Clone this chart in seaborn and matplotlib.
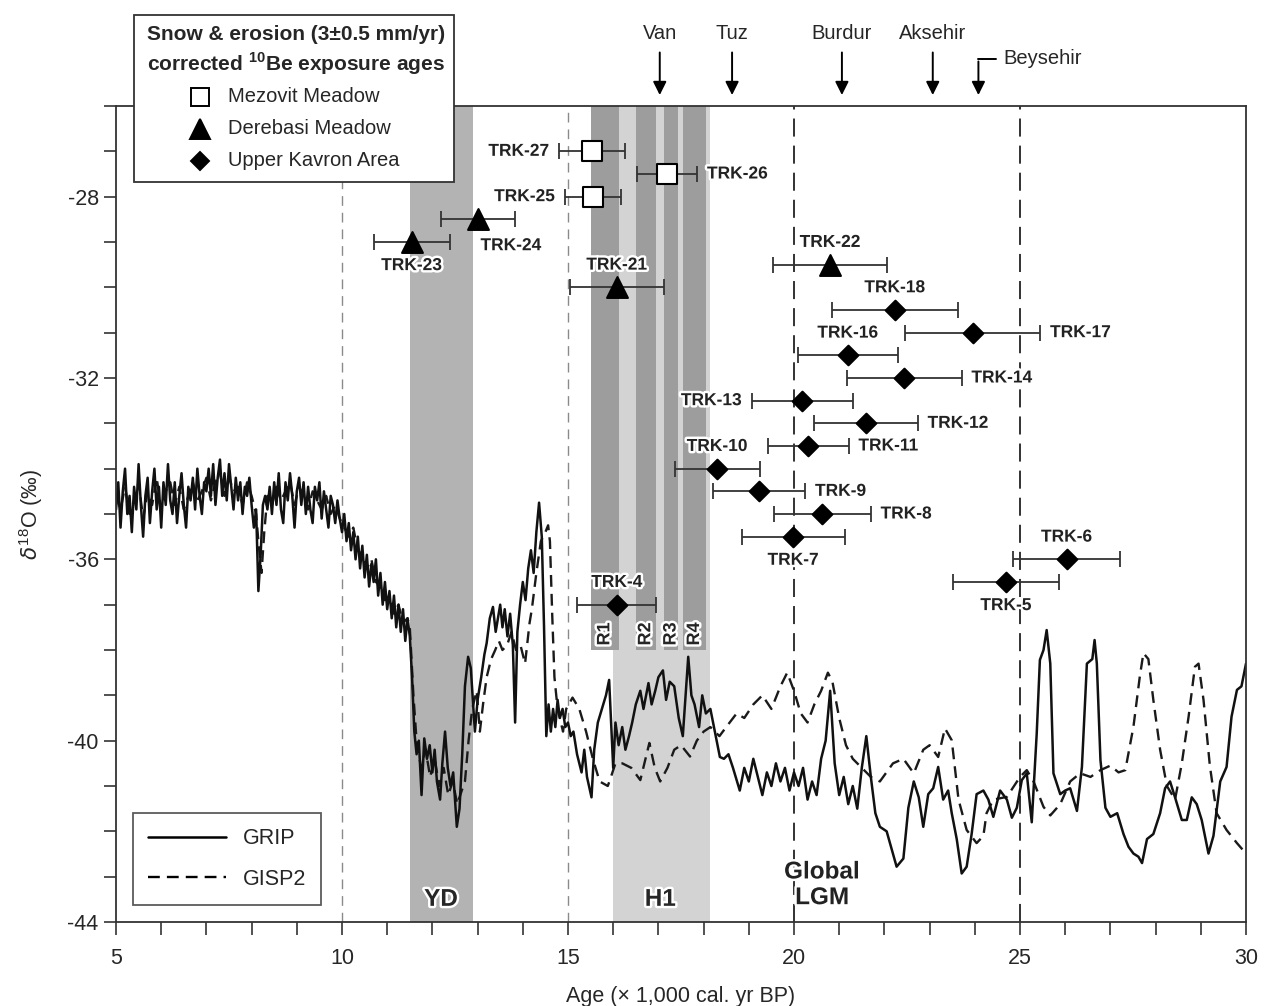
import pandas as pd
import seaborn as sns
import matplotlib.pyplot as plt
import matplotlib.patheffects as pe
from matplotlib.patches import Rectangle
from matplotlib.lines import Line2D

# ---- ice core records (age in kyr BP, d18O permil) ----
grip_age = [5.00, 5.05, 5.10, 5.15, 5.20, 5.25, 5.30, 5.35, 5.40, 5.45, 5.50, 5.55, 5.60, 5.65, 5.70,
            5.75, 5.80, 5.85, 5.90, 5.95, 6.00, 6.05, 6.10, 6.15, 6.20, 6.25, 6.30, 6.35, 6.40, 6.45,
            6.50, 6.55, 6.60, 6.65, 6.70, 6.75, 6.80, 6.85, 6.90, 6.95, 7.00, 7.05, 7.10, 7.15, 7.20,
            7.25, 7.30, 7.35, 7.40, 7.45, 7.50, 7.55, 7.60, 7.65, 7.70, 7.75, 7.80, 7.85, 7.90, 7.95,
            8.00, 8.05, 8.10, 8.15, 8.20, 8.25, 8.30, 8.35, 8.40, 8.45, 8.50, 8.55, 8.60, 8.65, 8.70,
            8.75, 8.80, 8.85, 8.90, 8.95, 9.00, 9.05, 9.10, 9.15, 9.20, 9.25, 9.30, 9.35, 9.40, 9.45,
            9.50, 9.55, 9.60, 9.65, 9.70, 9.75, 9.80, 9.85, 9.90, 9.95, 10.00, 10.05, 10.10, 10.15,
            10.20, 10.25, 10.30, 10.35, 10.40, 10.45, 10.50, 10.55, 10.60, 10.65, 10.70, 10.75, 10.80,
            10.85, 10.90, 10.95, 11.00, 11.05, 11.10, 11.15, 11.20, 11.25, 11.30, 11.35, 11.40, 11.45,
            11.50, 11.55, 11.60, 11.65, 11.70, 11.76, 11.82, 11.88, 11.94, 12.00, 12.05, 12.10, 12.17,
            12.22, 12.28, 12.34, 12.40, 12.46, 12.54, 12.60, 12.66, 12.72, 12.79, 12.85, 12.94, 13.00,
            13.08, 13.15, 13.20, 13.27, 13.34, 13.40, 13.45, 13.50, 13.55, 13.60, 13.66, 13.72, 13.78,
            13.83, 13.88, 13.94, 14.00, 14.06, 14.12, 14.18, 14.24, 14.30, 14.36, 14.42, 14.47, 14.52,
            14.57, 14.62, 14.67, 14.72, 14.77, 14.82, 14.88, 14.94, 15.00, 15.06, 15.12, 15.20, 15.30,
            15.36, 15.42, 15.52, 15.58, 15.66, 15.75, 15.84, 15.91, 16.00, 16.05, 16.12, 16.20, 16.27,
            16.35, 16.42, 16.50, 16.60, 16.67, 16.78, 16.85, 16.93, 17.00, 17.10, 17.17, 17.25, 17.35,
            17.45, 17.54, 17.66, 17.73, 17.80, 17.90, 17.97, 18.05, 18.15, 18.25, 18.36, 18.45, 18.55,
            18.65, 18.80, 18.90, 19.00, 19.10, 19.20, 19.30, 19.40, 19.50, 19.60, 19.70, 19.80, 19.90,
            20.00, 20.10, 20.20, 20.30, 20.40, 20.50, 20.60, 20.70, 20.80, 20.90, 21.00, 21.10, 21.20,
            21.30, 21.40, 21.50, 21.60, 21.70, 21.80, 21.90, 22.05, 22.27, 22.42, 22.53, 22.65, 22.76,
            22.86, 22.97, 23.08, 23.19, 23.30, 23.41, 23.49, 23.60, 23.71, 23.82, 23.93, 24.04, 24.19,
            24.30, 24.41, 24.56, 24.71, 24.82, 24.93, 25.04, 25.15, 25.26, 25.37, 25.44, 25.52, 25.59,
            25.67, 25.74, 25.89, 26.00, 26.11, 26.26, 26.37, 26.48, 26.60, 26.65, 26.70, 26.78, 26.89,
            27.00, 27.15, 27.29, 27.40, 27.51, 27.62, 27.70, 27.81, 27.95, 28.10, 28.21, 28.32, 28.43,
            28.58, 28.69, 28.80, 28.91, 29.02, 29.17, 29.28, 29.43, 29.57, 29.68, 29.80, 29.90, 30.00]
grip_d18o = [-34.9, -34.3, -35.3, -34.5, -34.0, -35.0, -34.6, -35.4, -34.4, -34.9, -33.9, -34.8, -35.5, -34.6, -34.2,
             -35.2, -34.5, -34.0, -34.9, -34.4, -35.3, -34.3, -34.8, -33.9, -34.7, -35.0, -34.3, -35.2, -34.6, -34.1,
             -34.8, -35.3, -34.4, -34.7, -34.2, -34.9, -34.0, -34.6, -35.0, -34.3, -34.5, -34.0, -34.6, -33.9, -34.8,
             -34.2, -33.8, -34.6, -34.1, -34.7, -33.9, -34.4, -34.9, -34.2, -34.7, -34.3, -35.0, -34.4, -34.6, -34.2,
             -34.8, -35.3, -34.9, -36.7, -35.9, -34.8, -34.6, -34.9, -34.4, -35.0, -34.3, -34.8, -34.1, -34.9, -35.2,
             -34.3, -34.7, -34.1, -34.6, -35.3, -34.5, -34.2, -34.8, -34.3, -35.0, -34.4, -34.9, -35.2, -34.4, -34.7,
             -34.3, -35.1, -34.5, -34.9, -35.3, -34.6, -34.8, -35.2, -34.7, -35.1, -35.4, -35.0, -35.6, -35.2,
             -35.8, -35.4, -36.0, -35.5, -36.2, -35.7, -36.4, -35.9, -36.6, -36.1, -36.5, -36.0, -36.8,
             -36.3, -37.0, -36.5, -37.1, -36.7, -37.3, -36.8, -37.5, -37.0, -37.6, -37.1, -37.8, -37.3,
             -37.7, -38.6, -39.8, -40.3, -40.0, -41.2, -39.95, -40.4, -40.1, -40.7, -40.2, -40.9, -41.3,
             -40.5, -39.8, -40.6, -41.0, -40.7, -41.9, -41.5, -40.3, -38.8, -38.15, -38.4, -39.8, -39.1,
             -38.6, -38.1, -37.85, -37.3, -37.05, -37.6, -37.3, -37.0, -37.5, -37.1, -37.7, -37.2, -37.9,
             -39.6, -37.6, -37.0, -36.5, -36.9, -36.2, -35.8, -36.3, -35.4, -34.75, -35.5, -37.5, -39.9,
             -39.2, -39.8, -39.3, -39.7, -39.1, -39.5, -39.3, -39.7, -39.6, -39.9, -39.8, -40.3, -40.7,
             -40.2, -40.8, -41.25, -40.2, -39.6, -39.3, -39.0, -38.66, -40.6, -39.6, -40.1, -39.7, -40.2,
             -39.9, -39.6, -39.2, -38.9, -39.3, -38.73, -39.2, -38.9, -38.6, -38.45, -39.1, -38.7, -38.8,
             -39.5, -39.9, -38.15, -39.0, -39.2, -39.7, -39.0, -39.4, -39.3, -39.8, -40.36, -40.4, -40.3,
             -40.6, -41.1, -40.6, -40.9, -40.4, -40.8, -41.2, -40.7, -41.0, -40.5, -40.9, -40.6, -41.1,
             -40.7, -41.0, -40.6, -41.3, -40.9, -41.2, -40.4, -40.0, -38.9, -40.5, -41.2, -40.8, -41.4,
             -41.0, -41.5, -40.6, -39.9, -40.8, -41.6, -41.9, -42.0, -42.78, -42.6, -41.48, -40.9, -41.25,
             -41.9, -41.18, -41.05, -40.58, -41.3, -41.1, -41.6, -42.17, -42.93, -42.78, -42.06, -41.18, -41.1,
             -41.3, -41.68, -41.1, -41.3, -41.7, -41.48, -40.87, -40.72, -41.8, -39.84, -38.22, -38.0, -37.56,
             -38.3, -40.72, -41.18, -41.1, -41.05, -41.55, -40.58, -38.3, -38.2, -37.78, -38.3, -40.43, -41.48,
             -41.68, -41.6, -42.06, -42.34, -42.49, -42.56, -42.7, -42.17, -42.06, -41.6, -41.05, -40.9, -41.25,
             -41.75, -41.75, -41.25, -41.4, -41.75, -42.49, -42.1, -40.9, -40.58, -39.47, -38.88, -38.8, -38.3]

gisp2_age = [5.0, 5.1, 5.2, 5.3, 5.4, 5.5, 5.6, 5.7, 5.8, 5.9, 6.0, 6.1, 6.2, 6.3, 6.4, 6.5, 6.6, 6.7,
             6.8, 6.9, 7.0, 7.1, 7.2, 7.3, 7.4, 7.5, 7.6, 7.7, 7.8, 7.9, 8.0, 8.1, 8.15, 8.22, 8.28,
             8.35, 8.45, 8.55, 8.65, 8.75, 8.85, 8.95, 9.05, 9.15, 9.25, 9.35, 9.45, 9.55, 9.65, 9.75,
             9.85, 9.95, 10.05, 10.15, 10.25, 10.35, 10.45, 10.55, 10.65, 10.75, 10.85, 10.95, 11.05,
             11.15, 11.25, 11.35, 11.45, 11.50, 11.58, 11.65, 11.75, 11.85, 11.95, 12.05, 12.15, 12.25,
             12.35, 12.45, 12.55, 12.65, 12.72, 12.80, 12.88, 12.98, 13.05, 13.12, 13.20, 13.30, 13.39,
             13.47, 13.55, 13.65, 13.75, 13.85, 13.95, 14.05, 14.15, 14.20, 14.30, 14.40, 14.50, 14.56,
             14.60, 14.65, 14.70, 14.77, 14.89, 14.96, 15.10, 15.25, 15.40, 15.55, 15.70, 15.88, 15.95,
             16.05, 16.20, 16.40, 16.60, 16.80, 16.92, 17.04, 17.20, 17.35, 17.50, 17.70, 17.85, 18.00,
             18.15, 18.35, 18.50, 18.73, 18.90, 19.10, 19.30, 19.50, 19.70, 19.85, 20.00, 20.15, 20.30,
             20.45, 20.60, 20.75, 20.85, 21.00, 21.15, 21.30, 21.50, 21.70, 21.90, 22.19, 22.42, 22.65,
             22.86, 23.00, 23.19, 23.34, 23.49, 23.64, 23.82, 24.04, 24.19, 24.26, 24.41, 24.71, 25.00,
             25.15, 25.30, 25.52, 25.67, 25.89, 26.11, 26.33, 26.56, 26.78, 27.00, 27.18, 27.33, 27.51,
             27.65, 27.73, 27.84, 27.95, 28.10, 28.25, 28.43, 28.58, 28.73, 28.87, 28.95, 29.06, 29.20,
             29.35, 29.57, 29.80, 30.00]
gisp2_d18o = [-34.6, -34.9, -34.4, -35.0, -34.7, -34.3, -35.1, -34.5, -34.8, -34.2, -34.9, -34.5, -34.3, -34.8,
              -34.4, -34.9, -34.6, -34.3, -34.7, -34.5, -34.2, -34.7, -34.3, -34.1, -34.6, -34.2, -34.5, -34.4,
              -34.8, -34.3, -34.6, -35.0, -35.6, -36.3, -35.4, -34.6, -34.8, -34.4, -34.7, -34.5, -34.3, -34.8,
              -34.4, -34.6, -34.9, -34.5, -34.7, -34.9, -34.6, -35.0, -34.8, -35.1, -35.3, -35.5, -35.3, -35.8,
              -35.9, -36.2, -36.0, -36.5, -36.6, -36.9, -36.8, -37.2, -37.0, -37.4, -37.3, -37.5, -39.0, -40.0,
              -40.6, -40.2, -40.8, -40.4, -41.0, -40.6, -41.2, -40.9, -41.4, -41.1, -40.9, -40.0, -39.3, -38.9,
              -39.8, -39.2, -38.6, -38.2, -38.0, -37.8, -38.0, -37.9, -37.6, -38.0, -37.9, -38.3, -37.4, -37.1,
              -36.3, -35.6, -35.4, -35.25, -35.6, -37.2, -38.6, -39.3, -39.8, -39.3, -39.05, -39.3, -39.8, -40.4,
              -40.9, -41.0, -40.8, -40.5, -40.5, -40.6, -40.87, -40.05, -40.6, -40.9, -40.6, -40.2, -40.1, -40.35,
              -40.0, -39.8, -39.7, -39.9, -39.7, -39.4, -39.5, -39.2, -39.0, -39.3, -38.8, -38.5, -38.9, -39.4,
              -39.6, -39.2, -38.9, -38.5, -38.7, -39.5, -40.1, -40.4, -40.6, -40.8, -40.9, -40.5, -40.4, -40.72,
              -40.2, -40.1, -40.36, -39.73, -39.99, -41.3, -41.97, -42.26, -42.1, -41.6, -41.3, -41.24, -40.8,
              -40.65, -40.9, -41.46, -41.65, -41.4, -40.9, -40.72, -40.8, -40.65, -40.55, -40.7, -40.65, -39.69,
              -38.59, -38.07, -38.2, -39.1, -40.2, -41.0, -41.3, -40.5, -39.47, -38.37, -38.3, -39.1, -40.55,
              -41.6, -41.97, -42.26, -42.49]

# ---- 10Be exposure ages (kyr) with 1-sigma errors; y is the plotting row ----
mezovit_id = ["TRK-27", "TRK-26", "TRK-25"]
mezovit_age = [15.53, 17.19, 15.55]
mezovit_err = [0.73, 0.67, 0.62]
mezovit_y = [-27.0, -27.5, -28.0]

derebasi_id = ["TRK-24", "TRK-23", "TRK-21", "TRK-22"]
derebasi_age = [13.00, 11.54, 16.08, 20.80]
derebasi_err = [0.82, 0.84, 1.04, 1.26]
derebasi_y = [-28.5, -29.0, -30.0, -29.5]

kavron_id = ["TRK-18", "TRK-17", "TRK-16", "TRK-14", "TRK-13", "TRK-12", "TRK-11", "TRK-10",
             "TRK-9", "TRK-8", "TRK-7", "TRK-6", "TRK-5", "TRK-4"]
kavron_age = [22.23, 23.95, 21.19, 22.44, 20.18, 21.59, 20.32, 18.30, 19.23, 20.63, 19.98, 26.03, 24.69, 16.08]
kavron_err = [1.40, 1.50, 1.10, 1.27, 1.12, 1.15, 0.89, 0.94, 1.02, 1.07, 1.14, 1.18, 1.17, 0.87]
kavron_y = [-30.5, -31.0, -31.5, -32.0, -32.5, -33.0, -33.5, -34.0, -34.5, -35.0, -35.5, -36.0, -36.5, -37.0]

# where each sample label sits relative to its point
label_side = {"TRK-27": "left", "TRK-26": "right", "TRK-25": "left", "TRK-24": "belowright",
              "TRK-23": "below", "TRK-21": "above", "TRK-22": "above", "TRK-18": "above",
              "TRK-17": "right", "TRK-16": "above", "TRK-14": "right", "TRK-13": "left",
              "TRK-12": "right", "TRK-11": "right", "TRK-10": "above", "TRK-9": "right",
              "TRK-8": "right", "TRK-7": "below", "TRK-6": "above", "TRK-5": "below", "TRK-4": "above"}

# climate intervals (kyr)
yd_span = (11.5, 12.9)
h1_span = (16.0, 18.15)
r_names = ["R1", "R2", "R3", "R4"]
r_start = [15.5, 16.5, 17.12, 17.55]
r_end = [16.13, 16.94, 17.44, 18.05]
r_floor = -38.0

# lake records shown above the plot
lake_names = ["Van", "Tuz", "Burdur", "Aksehir"]
lake_age = [17.03, 18.63, 21.06, 23.07]
beysehir_age = 24.08

sns.set_style("ticks")
plt.rcParams["font.family"] = ["Liberation Sans", "DejaVu Sans"]
plt.rcParams["axes.unicode_minus"] = False
plt.rcParams["mathtext.fontset"] = "custom"
plt.rcParams["mathtext.rm"] = "Liberation Sans"
plt.rcParams["mathtext.bf"] = "Liberation Sans:bold"
NARROW = ["Liberation Sans Narrow", "Liberation Sans", "DejaVu Sans"]
halo = [pe.withStroke(linewidth=3.5, foreground="white")]

W, H = 1270, 1006
fig = plt.figure(figsize=(W / 100, H / 100), dpi=100)
ax = fig.add_axes([116 / W, 1 - 922 / H, 1130 / W, 816 / H])
ax.set_xlim(5, 30)
ax.set_ylim(-44, -26)

# shaded intervals
ax.axvspan(*yd_span, color="#b3b3b3", lw=0, zorder=0)
ax.axvspan(*h1_span, color="#d3d3d3", lw=0, zorder=0)
fl = (r_floor + 44) / 18
for a, b in zip(r_start, r_end):
    ax.axvspan(a, b, ymin=fl, ymax=1, color="#9d9d9d", lw=0, zorder=0.5)

ax.axvline(10, color="#8a8a8a", lw=1.0, dashes=(7, 5), zorder=1)
ax.axvline(15, color="#8a8a8a", lw=1.0, dashes=(7, 5), zorder=1)
ax.axvline(20, color="#222222", lw=1.3, dashes=(10, 5), zorder=1)
ax.axvline(25, color="#222222", lw=1.3, dashes=(10, 5), zorder=1)

grip = pd.DataFrame({"age": grip_age, "d18o": grip_d18o})
gisp2 = pd.DataFrame({"age": gisp2_age, "d18o": gisp2_d18o})
sns.lineplot(data=gisp2, x="age", y="d18o", ax=ax, color="#1a1a1a", lw=1.7,
             dashes=False, linestyle=(0, (5, 3)), label="GISP2", zorder=2)
sns.lineplot(data=grip, x="age", y="d18o", ax=ax, color="#111111", lw=1.8,
             label="GRIP", zorder=2.1)

# exposure ages
groups = [
    (mezovit_id, mezovit_age, mezovit_err, mezovit_y, "s", 14, "white"),
    (derebasi_id, derebasi_age, derebasi_err, derebasi_y, "^", 15, "black"),
    (kavron_id, kavron_age, kavron_err, kavron_y, "D", 10, "black"),
]
for ids, ages, errs, ys, mk, ms, fc in groups:
    ax.errorbar(ages, ys, xerr=errs, fmt="none", ecolor="#333333", elinewidth=1.3,
                capsize=6, capthick=1.3, zorder=3)
    sns.scatterplot(x=ages, y=ys, ax=ax, marker=mk, s=ms ** 2, color=fc,
                    edgecolor="black", linewidth=1.5, zorder=4, legend=False)
    for name, a, e, y in zip(ids, ages, errs, ys):
        side = label_side[name]
        kw = dict(fontsize=12.5, fontweight="bold", family=NARROW, color="#222222",
                  textcoords="offset points", path_effects=halo, zorder=5, va="center")
        if side == "left":
            ax.annotate(name, (a - e, y), xytext=(-7, 0), ha="right", **kw)
        elif side == "right":
            ax.annotate(name, (a + e, y), xytext=(7, 0), ha="left", **kw)
        elif side == "above":
            ax.annotate(name, (a, y), xytext=(0, 16), ha="center", **kw)
        elif side == "below":
            ax.annotate(name, (a, y), xytext=(0, -17), ha="center", **kw)
        else:
            ax.annotate(name, (a, y), xytext=(24, -19), ha="center", **kw)

# interval labels
for name, a, b in zip(r_names, r_start, r_end):
    ax.text((a + b) / 2, r_floor + 0.1, name, rotation=90, ha="center", va="bottom",
            fontsize=13, fontweight="bold", family=NARROW, path_effects=halo, zorder=5)
ax.text(12.19, -43.5, "YD", ha="center", va="center", fontsize=17.5, fontweight="bold",
        path_effects=halo, zorder=5)
ax.text(17.04, -43.5, "H1", ha="center", va="center", fontsize=17.5, fontweight="bold",
        path_effects=halo, zorder=5)
ax.text(20.62, -43.18, "Global\nLGM", ha="center", va="center", fontsize=17.5, fontweight="bold",
        linespacing=1.15, color="#222222", path_effects=halo, zorder=5)

# lake arrows above the frame
for name, a in zip(lake_names, lake_age):
    ax.annotate("", xy=(a, 1.01), xytext=(a, 1.069), xycoords=("data", "axes fraction"),
                arrowprops=dict(arrowstyle="-|>", color="black", lw=1.4, mutation_scale=20),
                annotation_clip=False)
    ax.text(a, 1.089, name, transform=ax.get_xaxis_transform(), ha="center", va="center",
            fontsize=14.5, family=NARROW, clip_on=False)
ax.annotate("", xy=(beysehir_age, 1.01), xytext=(beysehir_age, 1.058), xycoords=("data", "axes fraction"),
            arrowprops=dict(arrowstyle="-|>", color="black", lw=1.4, mutation_scale=20),
            annotation_clip=False)
ax.plot([beysehir_age - 0.02, beysehir_age + 0.38], [1.058, 1.058], color="black", lw=1.4,
        transform=ax.get_xaxis_transform(), clip_on=False)
ax.text(beysehir_age + 0.55, 1.058, "Beysehir", transform=ax.get_xaxis_transform(), ha="left",
        va="center", fontsize=14.5, family=NARROW, clip_on=False)

# axes styling
ax.set_xticks([5, 10, 15, 20, 25, 30])
ax.set_xticks(range(5, 31), minor=True)
ax.set_yticks([-44, -40, -36, -32, -28])
ax.set_yticks(range(-44, -25), minor=True)
ax.tick_params(axis="both", which="both", direction="out", length=9, width=1.2,
               labelsize=15.5, color="#333333", top=False, right=False)
ax.tick_params(axis="x", which="major", pad=10)
for s in ax.spines.values():
    s.set_linewidth(1.3)
    s.set_color("#333333")
ax.set_xlabel("Age (\u00d7 1,000 cal. yr BP)", fontsize=15.5, labelpad=12)
ax.set_ylabel("$\\delta^{18}$O (\u2030)", fontsize=15.5, labelpad=16)

leg = ax.legend(handles=[Line2D([], [], color="black", lw=1.8, label="GRIP"),
                         Line2D([], [], color="black", lw=1.7, linestyle=(0, (5, 3)), label="GISP2")],
                loc="lower left", bbox_to_anchor=(0.015, 0.021), fontsize=15.5, frameon=True,
                fancybox=False, edgecolor="#333333", handlelength=3.6, handletextpad=0.8,
                borderpad=0.7, labelspacing=0.9, borderaxespad=0)
leg.get_frame().set_linewidth(1.3)


def fx(px):
    return px / W


def fy(py):
    return 1 - py / H


# exposure-age key box, sits over the top-left corner of the frame
fig.add_artist(Rectangle((fx(134), fy(182)), fx(454) - fx(134), fy(15) - fy(182),
                         transform=fig.transFigure, facecolor="white", edgecolor="#333333",
                         lw=1.3, zorder=10))
fig.text(fx(147), fy(34), "Snow & erosion (3\u00b10.5 mm/yr)", ha="left", va="center",
         fontsize=15, fontweight="bold", family=NARROW, zorder=11)
fig.text(fx(147), fy(64), "corrected $^{\\mathbf{10}}$Be exposure ages", ha="left", va="center",
         fontsize=15, fontweight="bold", family=NARROW, zorder=11)
key_rows = [("s", 13, "white", "Mezovit Meadow", 97), ("^", 14, "black", "Derebasi Meadow", 129),
            ("D", 9, "black", "Upper Kavron Area", 161)]
for mk, ms, fc, txt, py in key_rows:
    fig.add_artist(Line2D([fx(200)], [fy(py)], marker=mk, markersize=ms, markerfacecolor=fc,
                          markeredgecolor="black", markeredgewidth=1.4, linestyle="none",
                          transform=fig.transFigure, zorder=11))
    fig.text(fx(228), fy(py), txt, ha="left", va="center", fontsize=14.5, family=NARROW, zorder=11)

fig.savefig("out.png", dpi=100)
